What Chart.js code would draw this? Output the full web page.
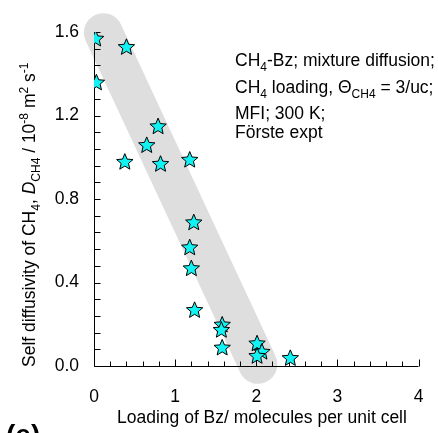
<!DOCTYPE html>
<html>
<head>
<meta charset="utf-8">
<script src="https://cdn.jsdelivr.net/npm/chart.js@4.4.1/dist/chart.umd.min.js"></script>
<style>
  html, body { margin: 0; padding: 0; background: #fff; overflow: hidden; }
  #chart { display: block; }
</style>
</head>
<body>
<canvas id="chart" width="438" height="433"></canvas>
<script>
// CH4 self diffusivity vs Bz loading (MFI, 300 K)
const loadingBz = [0.02, 0.40, 0.03, 0.79, 0.65, 0.38, 0.82, 1.18, 1.23, 1.18, 1.20, 1.24, 1.58, 1.57, 1.58, 2.01, 2.07, 2.01, 2.42];
const diffCH4   = [1.57, 1.53, 1.36, 1.15, 1.06, 0.98, 0.97, 0.99, 0.69, 0.57, 0.47, 0.27, 0.20, 0.175, 0.09, 0.11, 0.07, 0.05, 0.04];

// trend band (guide to the eye)
const bandLoading = [0.115, 2.02];
const bandDiff    = [1.597, 0.008];

const X_MAJOR = [0, 1, 2, 3, 4];
const Y_MAJOR = [0.0, 0.4, 0.8, 1.2, 1.6];
const X_MINOR_STEP = 0.2;
const Y_MINOR_STEP = 0.08;

const FONT = "'Liberation Sans', Arial, sans-serif";
const TXT = 17.5;
const SMALL = 12;

// five-pointed star marker as an svg image
function starImage(r, fill) {
    const s = Math.ceil(r * 2 + 4);
    const cx = s / 2, cy = s / 2 + 0.8;
    const pts = [];
    for (let i = 0; i < 10; i++) {
        const rad = i % 2 === 0 ? r : r * 0.45;
        const a = -Math.PI / 2 + i * Math.PI / 5;
        pts.push((cx + rad * Math.cos(a)).toFixed(2) + ',' + (cy + rad * Math.sin(a)).toFixed(2));
    }
    const svg = `<svg xmlns="http://www.w3.org/2000/svg" width="${s}" height="${s}">` +
        `<polygon points="${pts.join(' ')}" fill="${fill}" stroke="#000" stroke-width="1"/></svg>`;
    const img = new Image(s, s);
    img.src = 'data:image/svg+xml;charset=utf-8,' + encodeURIComponent(svg);
    return img;
}

function isMajor(v, list) {
    return list.some((m) => Math.abs(m - v) < 1e-6);
}

function stepTicks(min, max, step) {
    const out = [];
    const n = Math.round((max - min) / step);
    for (let i = 0; i <= n; i++) out.push({ value: +(min + i * step).toFixed(6) });
    return out;
}

// draws a run of text pieces with sub/superscripts, left to right
function drawRich(ctx, parts, x, y) {
    let cx = x;
    parts.forEach((p) => {
        const size = p.sub || p.sup ? SMALL : TXT;
        ctx.font = `${p.italic ? 'italic ' : ''}${size}px ${FONT}`;
        const dy = p.sub ? 4.5 : p.sup ? -7 : 0;
        ctx.fillText(p.t, cx, y + dy);
        cx += ctx.measureText(p.t).width;
    });
    return cx - x;
}

const axesPlugin = {
    id: 'axes',
    beforeDatasetDraw(chart, args) {
        // stars (dataset 0) go on top of the band and the axes
        if (args.index !== 0) return;
        const { ctx, chartArea: a } = chart;
        const xs = chart.scales.x, ys = chart.scales.y;
        const lx = Math.round(a.left) + 0.5;
        const by = Math.round(a.bottom) + 0.5;
        ctx.save();
        ctx.strokeStyle = '#000';
        ctx.lineWidth = 1;
        ctx.beginPath();
        ctx.moveTo(lx, a.top);
        ctx.lineTo(lx, by);
        ctx.lineTo(a.right, by);
        ys.ticks.forEach((t) => {
            const y = Math.round(ys.getPixelForValue(t.value)) + 0.5;
            ctx.moveTo(lx, y);
            ctx.lineTo(lx + 6, y);
        });
        xs.ticks.forEach((t) => {
            const x = Math.round(xs.getPixelForValue(t.value)) + 0.5;
            ctx.moveTo(x, by);
            ctx.lineTo(x, by - (isMajor(t.value, X_MAJOR) ? 7 : 5));
        });
        ctx.stroke();
        ctx.restore();
    },
    afterDraw(chart) {
        const { ctx } = chart;
        ctx.save();
        ctx.fillStyle = '#000';
        ctx.textBaseline = 'alphabetic';
        ctx.textAlign = 'left';

        // x-axis title
        ctx.font = `${TXT}px ${FONT}`;
        ctx.fillText('Loading of Bz/ molecules per unit cell', 117, 422.5);

        // y-axis title, rotated
        ctx.save();
        ctx.translate(35, 367);
        ctx.rotate(-Math.PI / 2);
        drawRich(ctx, [
            { t: 'Self diffusivity of CH' }, { t: '4', sub: true }, { t: ', ' },
            { t: 'D', italic: true }, { t: 'CH4', sub: true }, { t: ' / 10' },
            { t: '-8', sup: true }, { t: ' m' }, { t: '2', sup: true },
            { t: ' s' }, { t: '-1', sup: true },
        ], 0, 0);
        ctx.restore();

        // annotation block
        const ax = 235;
        drawRich(ctx, [{ t: 'CH' }, { t: '4', sub: true }, { t: '-Bz; mixture diffusion;' }], ax, 66);
        drawRich(ctx, [{ t: 'CH' }, { t: '4', sub: true }, { t: ' loading, \u0398' }, { t: 'CH4', sub: true }, { t: ' = 3/uc;' }], ax, 93);
        drawRich(ctx, [{ t: 'MFI; 300 K;' }], ax, 118.5);
        drawRich(ctx, [{ t: 'Förste expt' }], ax, 137.5);

        // panel label, cut by the lower edge
        ctx.font = `bold 28px ${FONT}`;
        ctx.fillText('(e)', 6, 444);
        ctx.restore();
    },
};

const starPts = loadingBz.map((x, i) => ({ x, y: diffCH4[i] }));
const bandPts = bandLoading.map((x, i) => ({ x, y: bandDiff[i] }));
const star = starImage(8.6, '#12f2f2');

const chart = new Chart(document.getElementById('chart'), {
    type: 'scatter',
    data: {
        datasets: [
            {
                data: starPts,
                pointStyle: star,
            },
            {
                data: bandPts,
                showLine: true,
                borderColor: '#dedede',
                borderWidth: 39,
                borderCapStyle: 'round',
                pointRadius: 0,
                clip: false,
            },
        ],
    },
    plugins: [axesPlugin],
    options: {
        responsive: false,
        animation: false,
        layout: { padding: { left: 0, right: 6, top: 32, bottom: 0 } },
        plugins: { legend: { display: false }, tooltip: { enabled: false } },
        scales: {
            x: {
                min: 0,
                max: 4,
                grid: { display: false },
                border: { display: false },
                afterBuildTicks: (s) => { s.ticks = stepTicks(0, 4, X_MINOR_STEP); },
                afterFit: (s) => { s.height = 67; },
                ticks: {
                    autoSkip: false,
                    maxRotation: 0,
                    padding: 13,
                    color: '#000',
                    font: { family: FONT, size: TXT },
                    callback: (v) => (isMajor(v, X_MAJOR) ? String(Math.round(v)) : ''),
                },
            },
            y: {
                min: 0,
                max: 1.6,
                grid: { display: false },
                border: { display: false },
                afterBuildTicks: (s) => { s.ticks = stepTicks(0, 1.6, Y_MINOR_STEP); },
                afterFit: (s) => { s.width = 94; },
                ticks: {
                    autoSkip: false,
                    padding: 7,
                    color: '#000',
                    font: { family: FONT, size: TXT },
                    callback: (v) => (isMajor(v, Y_MAJOR) ? v.toFixed(1) : ''),
                },
            },
        },
    },
});

// redraw once the marker image is decoded
if (!star.complete) star.onload = () => chart.update();
</script>
</body>
</html>
